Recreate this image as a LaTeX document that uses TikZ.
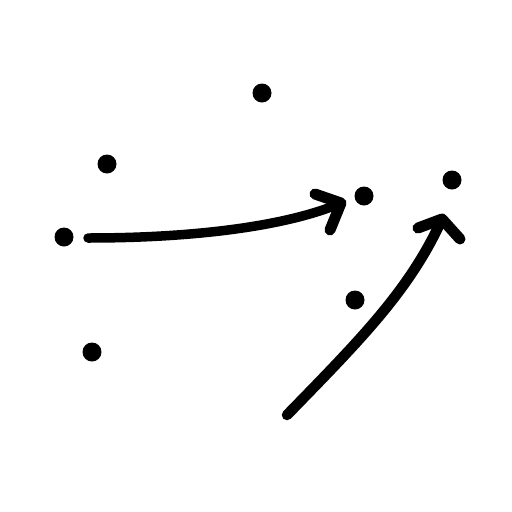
\documentclass[tikz,border=0pt]{standalone}
\begin{document}
\begin{tikzpicture}[x=1pt,y=-1pt,
  dot/.style={circle,fill=black,inner sep=0pt,minimum size=19pt},
  stroke/.style={line width=9.5pt,line cap=round,line join=round}]
\useasboundingbox (0,0) rectangle (512,512);
\node[dot] (d1) at (262,93) {};
\node[dot] (d2) at (107,164) {};
\node[dot] (d3) at (64,237) {};
\node[dot] (d4) at (364,196) {};
\node[dot] (d5) at (452,180) {};
\node[dot] (d6) at (355,300) {};
\node[dot] (d7) at (92,352) {};
\coordinate (a1s) at (88,238);
\coordinate (a1t) at (341,203);
\coordinate (a1u) at (315,194);
\coordinate (a1l) at (330,230);
\coordinate (a2s) at (287,415);
\coordinate (a2t) at (442,219);
\coordinate (a2u) at (418,228);
\coordinate (a2l) at (460,239);
\draw[stroke] (a1s) .. controls (200,238) and (290,225) .. (a1t);
\draw[stroke,line width=11pt] (a1u) -- (a1t) -- (a1l);
\draw[stroke,line width=10.5pt] (a2s) .. controls (360,340) and (410,290) .. (a2t);
\draw[stroke,line width=11pt] (a2u) -- (a2t) -- (a2l);
\end{tikzpicture}
\end{document}
